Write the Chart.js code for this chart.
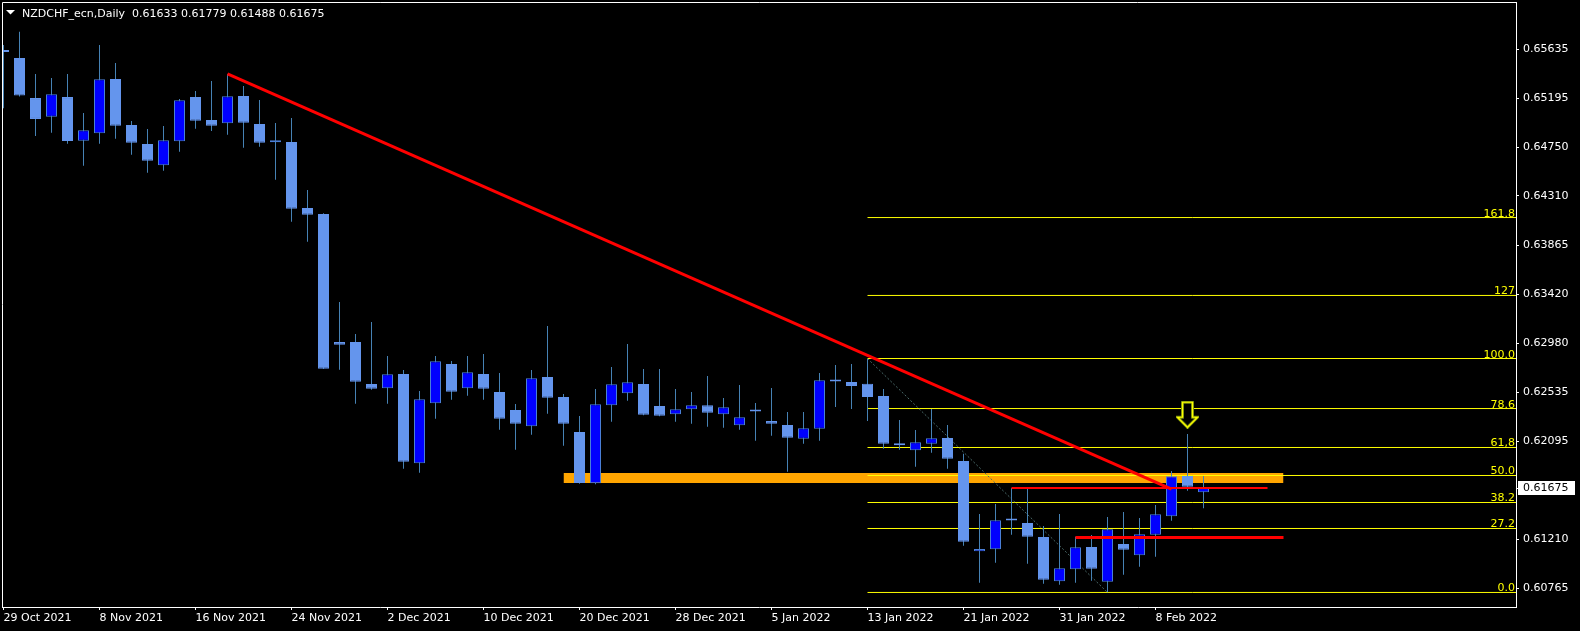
<!DOCTYPE html>
<html>
<head>
<meta charset="utf-8">
<style>
  html, body { margin: 0; padding: 0; background: #000; }
  #wrap { width: 1580px; height: 631px; }
</style>
<script src="https://cdn.jsdelivr.net/npm/chart.js@4.4.1/dist/chart.umd.min.js"></script>
</head>
<body>
<div id="wrap"><canvas id="chart" width="1580" height="631"></canvas></div>
<script>
const symbol = 'NZDCHF_ecn';
const period = 'Daily';

const dates = [
  '29 Oct 2021', '1 Nov 2021', '2 Nov 2021', '3 Nov 2021', '4 Nov 2021', '5 Nov 2021',
  '8 Nov 2021', '9 Nov 2021', '10 Nov 2021', '11 Nov 2021', '12 Nov 2021',
  '15 Nov 2021', '16 Nov 2021', '17 Nov 2021', '18 Nov 2021', '19 Nov 2021',
  '22 Nov 2021', '23 Nov 2021', '24 Nov 2021', '25 Nov 2021', '26 Nov 2021',
  '29 Nov 2021', '30 Nov 2021', '1 Dec 2021', '2 Dec 2021', '3 Dec 2021',
  '6 Dec 2021', '7 Dec 2021', '8 Dec 2021', '9 Dec 2021', '10 Dec 2021',
  '13 Dec 2021', '14 Dec 2021', '15 Dec 2021', '16 Dec 2021', '17 Dec 2021',
  '20 Dec 2021', '21 Dec 2021', '22 Dec 2021', '23 Dec 2021', '24 Dec 2021',
  '27 Dec 2021', '28 Dec 2021', '29 Dec 2021', '30 Dec 2021', '31 Dec 2021',
  '3 Jan 2022', '4 Jan 2022', '5 Jan 2022', '6 Jan 2022', '7 Jan 2022',
  '10 Jan 2022', '11 Jan 2022', '12 Jan 2022', '13 Jan 2022', '14 Jan 2022',
  '17 Jan 2022', '18 Jan 2022', '19 Jan 2022', '20 Jan 2022', '21 Jan 2022',
  '24 Jan 2022', '25 Jan 2022', '26 Jan 2022', '27 Jan 2022', '28 Jan 2022',
  '31 Jan 2022', '1 Feb 2022', '2 Feb 2022', '3 Feb 2022', '4 Feb 2022',
  '7 Feb 2022', '8 Feb 2022', '9 Feb 2022', '10 Feb 2022', '11 Feb 2022'
];

const opens = [
  0.65618, 0.65557, 0.65195, 0.65026, 0.65204, 0.64810, 0.64876, 0.65367, 0.64951, 0.64780,
  0.64587, 0.64804, 0.65204, 0.64997, 0.64967, 0.65213, 0.64960, 0.64795, 0.64798, 0.64201,
  0.64147, 0.62990, 0.62990, 0.62611, 0.62572, 0.62701, 0.61894, 0.62436, 0.62792, 0.62572,
  0.62701, 0.62538, 0.62376, 0.62229, 0.62674, 0.62493, 0.62177, 0.61713, 0.62418, 0.62527,
  0.62611, 0.62412, 0.62337, 0.62382, 0.62418, 0.62337, 0.62238, 0.62366, 0.62276, 0.62240,
  0.62117, 0.62207, 0.62637, 0.62629, 0.62614, 0.62502, 0.62062, 0.62012, 0.62071, 0.62123,
  0.61915, 0.61099, 0.61117, 0.61381, 0.61355, 0.61228, 0.60828, 0.60936, 0.61138, 0.60824,
  0.61165, 0.61063, 0.61249, 0.61415, 0.61779, 0.61633
];
const highs = [
  0.65675, 0.65795, 0.65412, 0.65376, 0.65412, 0.65060, 0.65674, 0.65512, 0.64988, 0.64915,
  0.64942, 0.65186, 0.65259, 0.65349, 0.65412, 0.65304, 0.65177, 0.64969, 0.65015, 0.64364,
  0.64153, 0.63352, 0.63063, 0.63171, 0.62864, 0.62737, 0.62548, 0.62864, 0.62819, 0.62864,
  0.62882, 0.62710, 0.62430, 0.62737, 0.63135, 0.62520, 0.62322, 0.62566, 0.62764, 0.62972,
  0.62746, 0.62746, 0.62566, 0.62538, 0.62683, 0.62484, 0.62602, 0.62439, 0.62575, 0.62358,
  0.62358, 0.62710, 0.62782, 0.62791, 0.62837, 0.62566, 0.62285, 0.62195, 0.62385, 0.62240,
  0.61981, 0.61436, 0.61526, 0.61671, 0.61665, 0.61328, 0.61436, 0.61231, 0.61246, 0.61409,
  0.61454, 0.61400, 0.61517, 0.61825, 0.62159, 0.61779
];
const lows = [
  0.65103, 0.65208, 0.64852, 0.64882, 0.64782, 0.64584, 0.64782, 0.64828, 0.64683, 0.64520,
  0.64538, 0.64710, 0.64918, 0.64897, 0.64864, 0.64746, 0.64755, 0.64457, 0.64077, 0.63897,
  0.62746, 0.62740, 0.62433, 0.62559, 0.62433, 0.61845, 0.61809, 0.62297, 0.62469, 0.62505,
  0.62469, 0.62198, 0.62017, 0.62153, 0.62342, 0.62053, 0.61710, 0.61704, 0.62270, 0.62460,
  0.62328, 0.62320, 0.62270, 0.62252, 0.62225, 0.62216, 0.62198, 0.62098, 0.62144, 0.61818,
  0.62071, 0.62098, 0.62403, 0.62385, 0.62276, 0.62026, 0.62017, 0.61863, 0.61990, 0.61845,
  0.61150, 0.60815, 0.60996, 0.61249, 0.60987, 0.60806, 0.60797, 0.60815, 0.60833, 0.60729,
  0.60887, 0.60960, 0.61050, 0.61375, 0.61647, 0.61488
];
const closes = [
  0.65612, 0.65217, 0.65006, 0.65229, 0.64807, 0.64903, 0.65364, 0.64945, 0.64791, 0.64629,
  0.64813, 0.65175, 0.64990, 0.64945, 0.65211, 0.64972, 0.64791, 0.64813, 0.64195, 0.64141,
  0.62749, 0.62966, 0.62632, 0.62568, 0.62699, 0.61909, 0.62473, 0.62816, 0.62541, 0.62717,
  0.62568, 0.62297, 0.62252, 0.62662, 0.62487, 0.62252, 0.61716, 0.62427, 0.62608, 0.62626,
  0.62333, 0.62324, 0.62382, 0.62418, 0.62351, 0.62400, 0.62310, 0.62362, 0.62252, 0.62126,
  0.62210, 0.62644, 0.62633, 0.62593, 0.62493, 0.62071, 0.62058, 0.62084, 0.62120, 0.61936,
  0.61186, 0.61120, 0.61379, 0.61377, 0.61231, 0.60842, 0.60945, 0.61135, 0.60942, 0.61298,
  0.61113, 0.61253, 0.61433, 0.61777, 0.61683, 0.61675
];

// price axis labels (0.61650 is hidden behind the current price box)
const yTicks = [0.65635, 0.65195, 0.64750, 0.64310, 0.63865, 0.63420, 0.62980, 0.62535, 0.62095, 0.61210, 0.60765];
const dateTickBars = [0, 6, 12, 18, 24, 30, 36, 42, 48, 54, 60, 66, 72];

// fibonacci retracement drawn from bar 54 high to bar 69 low
const fibLabels = ['0.0', '27.2', '38.2', '50.0', '61,8', '78.6', '100.0', '127', '161.8'];
const fibLevels = [0.60727, 0.61305, 0.61540, 0.61784, 0.62037, 0.62389, 0.62841, 0.63411, 0.64115];
const fibBars = [54, 69];
const fibBase = [0.62841, 0.60727];

const trendBars = [14, 73];
const trendPrices = [0.65413, 0.61660];

const hLineFrom = [63, 67];
const hLineTo = [79, 80];
const hLinePrice = [0.61671, 0.61224];

const zoneBars = [35, 80];
const zonePrices = [0.61806, 0.61716];

const arrowBar = [74];
const arrowPrice = [0.62333];

const last = closes.length - 1;

function makeArrow() {
  const cv = document.createElement('canvas');
  cv.width = 23; cv.height = 28;
  const g = cv.getContext('2d');
  g.beginPath();
  g.moveTo(6.5, 1.5); g.lineTo(16.5, 1.5); g.lineTo(16.5, 16.5); g.lineTo(21.5, 16.5);
  g.lineTo(11.5, 26.5); g.lineTo(1.5, 16.5); g.lineTo(6.5, 16.5); g.closePath();
  g.fillStyle = '#000'; g.fill();
  g.strokeStyle = '#4f6b10'; g.lineWidth = 3; g.stroke();
  g.strokeStyle = '#ffff00'; g.lineWidth = 1.6; g.stroke();
  return cv;
}

const up = (i) => closes[i] >= opens[i];

const datasets = [];

// orange zone
datasets.push({
  type: 'line', order: 12,
  data: zoneBars.map(b => ({ x: b, y: zonePrices[0] })),
  borderColor: 'rgba(0,0,0,0)', borderWidth: 0, pointRadius: 0,
  backgroundColor: '#ffa500', fill: '+1'
});
datasets.push({
  type: 'line', order: 11,
  data: zoneBars.map(b => ({ x: b, y: zonePrices[1] })),
  borderColor: 'rgba(0,0,0,0)', borderWidth: 0, pointRadius: 0, fill: false
});

// fib levels
fibLevels.forEach(lv => {
  datasets.push({
    type: 'line', order: 10,
    data: [{ x: fibBars[0], y: lv }, { x: 96, y: lv }],
    borderColor: '#ffff00', borderWidth: 1, pointRadius: 0, fill: false
  });
});
datasets.push({
  type: 'line', order: 9,
  data: fibBars.map((b, k) => ({ x: b, y: fibBase[k] })),
  borderColor: '#4a6a6a', borderWidth: 1, borderDash: [2, 2], pointRadius: 0, fill: false
});

// candles
datasets.push({
  type: 'bar', order: 6, grouped: false,
  data: lows.map((l, i) => ({ x: i, y: [l, highs[i]] })),
  backgroundColor: '#4682b4', borderWidth: 0,
  barPercentage: 1 / 16, categoryPercentage: 1, inflateAmount: 0
});
datasets.push({
  type: 'bar', order: 5, grouped: false,
  data: opens.map((o, i) => ({ x: i, y: [o, closes[i]] })),
  backgroundColor: (c) => up(c.dataIndex) ? '#0000ff' : '#6495ed',
  borderColor: (c) => up(c.dataIndex) ? '#4a7fd6' : '#6495ed',
  borderWidth: 1, borderSkipped: false, minBarLength: 2,
  barPercentage: 11 / 16, categoryPercentage: 1, inflateAmount: 0
});

// red trend line and levels
datasets.push({
  type: 'line', order: 2,
  data: trendBars.map((b, k) => ({ x: b, y: trendPrices[k] })),
  borderColor: '#ff0000', borderWidth: 3, pointRadius: 0, fill: false
});
hLinePrice.forEach((p, k) => {
  datasets.push({
    type: 'line', order: 1,
    data: [{ x: hLineFrom[k], y: p }, { x: hLineTo[k], y: p }],
    borderColor: '#ff0000', borderWidth: k === 0 ? 2 : 3, pointRadius: 0, fill: false
  });
});

// arrow marker
datasets.push({
  type: 'line', order: 0, showLine: false,
  data: arrowBar.map((b, k) => ({ x: b, y: arrowPrice[k] })),
  pointStyle: makeArrow(), pointRadius: 5
});

const font = { family: '"DejaVu Sans"', size: 11 };

const overlay = {
  id: 'overlay',
  beforeDraw(chart) {
    const c = chart.ctx;
    c.save();
    c.fillStyle = '#000';
    c.fillRect(0, 0, chart.width, chart.height);
    c.restore();
  },
  afterDraw(chart) {
    const c = chart.ctx, a = chart.chartArea, y = chart.scales.y;
    c.save();
    c.strokeStyle = '#fff';
    c.lineWidth = 1;
    c.beginPath();
    c.moveTo(a.left + 0.5, a.bottom);
    c.lineTo(a.left + 0.5, a.top + 0.5);
    c.lineTo(a.right, a.top + 0.5);
    c.stroke();

    c.font = '11px "DejaVu Sans"';
    c.fillStyle = '#ffff00';
    c.textAlign = 'right';
    c.textBaseline = 'alphabetic';
    fibLevels.forEach((lv, k) => {
      c.fillText(fibLabels[k], a.right - 1, Math.round(y.getPixelForValue(lv)) - 1);
    });

    // current price box
    const py = Math.round(y.getPixelForValue(closes[last]));
    c.fillStyle = '#fff';
    c.fillRect(a.right + 2, py - 7, 57, 14);
    c.fillRect(a.right, py, 3, 1);
    c.fillStyle = '#000';
    c.textAlign = 'left';
    c.textBaseline = 'middle';
    c.fillText(closes[last].toFixed(5), a.right + 7, py);

    // title
    c.fillStyle = '#fff';
    c.beginPath();
    c.moveTo(6, 10); c.lineTo(15, 10); c.lineTo(10.5, 14.5); c.closePath();
    c.fill();
    c.textBaseline = 'alphabetic';
    const t = symbol + ',' + period + '  ' +
      [opens[last], highs[last], lows[last], closes[last]].map(v => v.toFixed(5)).join(' ');
    c.fillText(t, 22, 17);
    c.restore();
  }
};

const noPad = (s) => { s.paddingTop = 0; s.paddingBottom = 0; s.paddingLeft = 0; s.paddingRight = 0; };

new Chart(document.getElementById('chart'), {
  type: 'bar',
  data: { datasets },
  plugins: [overlay],
  options: {
    responsive: false,
    animation: false,
    layout: { autoPadding: false, padding: { left: 2, top: 2, right: 0, bottom: 0 } },
    plugins: { legend: { display: false }, tooltip: { enabled: false } },
    scales: {
      x: {
        type: 'linear', offset: false,
        min: -0.09375, max: 94.53125,
        afterBuildTicks: (s) => { s.ticks = dateTickBars.map(v => ({ value: v })); },
        afterFit: (s) => { s.height = 24; noPad(s); },
        grid: { offset: false, drawOnChartArea: false, drawTicks: true, tickLength: 3, color: '#fff' },
        border: { display: true, color: '#fff' },
        ticks: {
          autoSkip: false, maxRotation: 0, align: 'start', padding: 2,
          color: '#fff', font,
          callback: (v) => dates[v] || ''
        }
      },
      y: {
        position: 'right', beginAtZero: false,
        min: 0.60595541, max: 0.66062926,
        afterBuildTicks: (s) => { s.ticks = yTicks.map(v => ({ value: v })); },
        afterFit: (s) => { s.width = 64; noPad(s); },
        grid: { drawOnChartArea: false, drawTicks: true, tickLength: 3, color: '#fff' },
        border: { display: true, color: '#fff' },
        ticks: {
          padding: 4, color: '#fff', font,
          callback: (v) => Number(v).toFixed(5)
        }
      }
    }
  }
});
</script>
</body>
</html>
